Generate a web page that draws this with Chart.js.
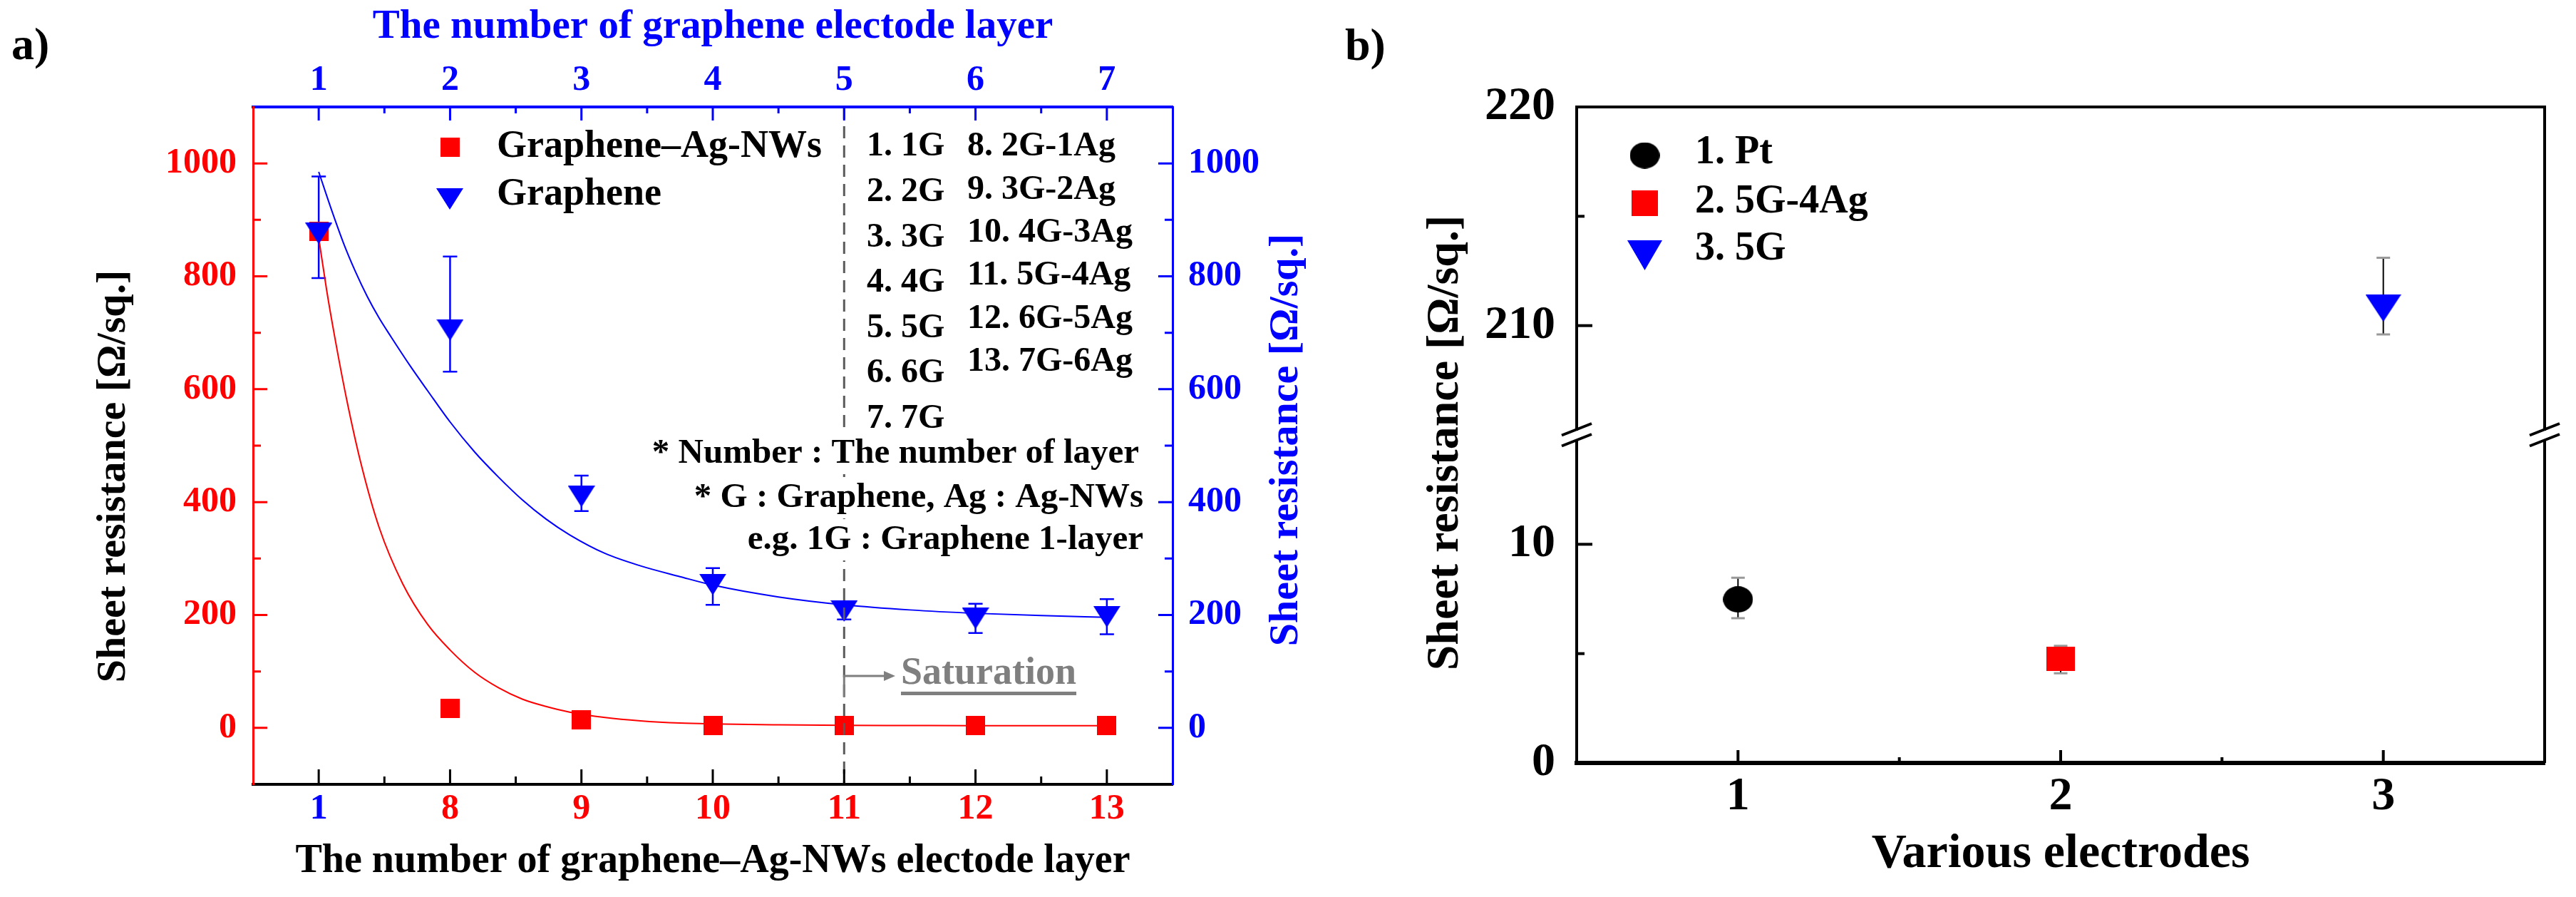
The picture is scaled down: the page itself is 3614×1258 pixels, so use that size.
<!DOCTYPE html>
<html>
<head>
<meta charset="utf-8">
<title>Sheet resistance</title>
<script src="https://cdn.jsdelivr.net/npm/chart.js@4.4.1/dist/chart.umd.min.js"></script>
<style>
  html, body { margin: 0; padding: 0; background: #ffffff; }
  #wrap { position: relative; width: 3614px; height: 1258px; overflow: hidden; background: #fff; }
  canvas { position: absolute; top: 0; }
  #chartA { left: 0; }
  #chartB { left: 1850px; }
</style>
</head>
<body>
<div id="wrap">
  <canvas id="chartA" width="1850" height="1258"></canvas>
  <canvas id="chartB" width="1764" height="1258"></canvas>
</div>
<script>
// ---- panel a: layers ----
const layerPos = [1, 2, 3, 4, 5, 6, 7];
const bottomLabels = ['1', '8', '9', '10', '11', '12', '13'];
const topLabels = ['1', '2', '3', '4', '5', '6', '7'];
const hybridValues = [879, 35, 14.5, 4.4, 4.4, 4.2, 4.2];
const grapheneValues = [876, 705, 410, 254, 207, 194, 197];
const grapheneErrLow = [797, 631, 384, 218, 192, 168, 166];
const grapheneErrHigh = [977, 835, 447, 283, 222, 220, 228];

// fitted curves
const hybridFitX = [1, 1.06, 1.12, 1.21, 1.32, 1.46, 1.64, 1.83, 2.0, 2.19, 2.37, 2.55, 2.73, 2.91, 3.18, 3.45, 3.75, 4, 4.5, 5, 5.5, 6, 6.5, 7];
const hybridFitY = [868, 776, 695, 585, 470, 355, 255, 183, 138, 98, 71, 51, 38, 28, 18.5, 12.5, 8.5, 7, 5.5, 4.6, 4.2, 4, 4, 4];
const grapheneFitX = [1, 1.1, 1.19, 1.28, 1.37, 1.46, 1.55, 1.7, 1.83, 2.0, 2.19, 2.37, 2.55, 2.73, 2.91, 3.18, 3.45, 3.75, 4, 4.5, 5, 5.5, 6, 6.5, 7];
const grapheneFitY = [985, 916, 858, 808, 764, 726, 693, 640, 597, 542, 488, 444, 404, 370, 342, 309, 287, 268, 253, 232, 218, 209, 203, 199, 196];

const resTicks = [0, 200, 400, 600, 800, 1000];
const resMinor = [100, 300, 500, 700, 900];
const layerMinor = [1.5, 2.5, 3.5, 4.5, 5.5, 6.5];
const sampleList1 = ['1. 1G', '2. 2G', '3. 3G', '4. 4G', '5. 5G', '6. 6G', '7. 7G'];
const sampleList2 = ['8. 2G-1Ag', '9. 3G-2Ag', '10. 4G-3Ag', '11. 5G-4Ag', '12. 6G-5Ag', '13. 7G-6Ag'];
const notes = ['* Number : The number of layer', '* G : Graphene, Ag : Ag-NWs', 'e.g. 1G : Graphene 1-layer'];

// ---- panel b: electrodes ----
const electrodeNames = ['1. Pt', '2. 5G-4Ag', '3. 5G'];
const electrodePos = [1, 2, 3];
const electrodeValues = [7.48, 4.76, 210.8];
const electrodeErrLow = [6.62, 4.1, 209.6];
const electrodeErrHigh = [8.47, 5.36, 213.1];
const electrodeAxis = ['yLow', 'yLow', 'yHigh'];
const electrodeTicks = ['1', '2', '3'];
const lowTicks = [0, 10];
const highTicks = [210, 220];

const RED = '#ff0000', BLUE = '#0000ff', GRAY = '#7f7f7f';
const SERIF = '"Liberation Serif", "Times New Roman", serif';
Chart.defaults.font.family = SERIF;

function makeMarker(shape, w, h, color) {
    const c = document.createElement('canvas');
    c.width = w;
    c.height = h;
    const g = c.getContext('2d');
    g.fillStyle = color;
    g.beginPath();
    if (shape === 'square') g.rect(0, 0, w, h);
    else if (shape === 'circle') g.ellipse(w / 2, h / 2, w / 2, h / 2, 0, 0, Math.PI * 2);
    else { g.moveTo(0, 0); g.lineTo(w, 0); g.lineTo(w / 2, h); g.closePath(); }
    g.fill();
    return c;
}

const squareA = makeMarker('square', 27, 27, RED);
const triA = makeMarker('tri', 38, 30, BLUE);
const circleB = makeMarker('circle', 42, 37, '#000');
const squareB = makeMarker('square', 40, 34, RED);
const triB = makeMarker('tri', 50, 38, BLUE);
const legendB = [makeMarker('circle', 42, 37, '#000'), makeMarker('square', 37, 36, RED), makeMarker('tri', 49, 42, BLUE)];

function errorBars(bars) {
    return {
        id: 'errorBars',
        beforeDatasetsDraw(chart) {
            const ctx = chart.ctx;
            bars.forEach(b => {
                const xs = chart.scales.x;
                b.x.forEach((xv, i) => {
                    const ys = chart.scales[b.axis[i]];
                    const px = xs.getPixelForValue(xv);
                    const lo = ys.getPixelForValue(b.low[i]);
                    const hi = ys.getPixelForValue(b.high[i]);
                    ctx.save();
                    ctx.strokeStyle = b.color;
                    ctx.lineWidth = b.width;
                    ctx.beginPath();
                    ctx.moveTo(px, lo);
                    ctx.lineTo(px, hi);
                    ctx.stroke();
                    ctx.strokeStyle = b.capColor;
                    ctx.lineWidth = b.capLine;
                    ctx.beginPath();
                    ctx.moveTo(px - b.cap / 2, lo); ctx.lineTo(px + b.cap / 2, lo);
                    ctx.moveTo(px - b.cap / 2, hi); ctx.lineTo(px + b.cap / 2, hi);
                    ctx.stroke();
                    ctx.restore();
                });
            });
        }
    };
}

// ticks drawn inward from the axis line
function tickMarks(specs) {
    return {
        id: 'tickMarks',
        afterDraw(chart) {
            const ctx = chart.ctx;
            specs.forEach(s => {
                const sc = chart.scales[s.scale];
                ctx.save();
                ctx.strokeStyle = s.color;
                ctx.lineWidth = s.width;
                ctx.beginPath();
                s.values.forEach(v => {
                    const p = sc.getPixelForValue(v);
                    if (sc.position === 'left') { ctx.moveTo(sc.right, p); ctx.lineTo(sc.right + s.len, p); }
                    else if (sc.position === 'right') { ctx.moveTo(sc.left, p); ctx.lineTo(sc.left - s.len, p); }
                    else if (sc.position === 'top') { ctx.moveTo(p, sc.bottom); ctx.lineTo(p, sc.bottom + s.len); }
                    else { ctx.moveTo(p, sc.top); ctx.lineTo(p, sc.top - s.len); }
                });
                ctx.stroke();
                ctx.restore();
            });
        }
    };
}

function vText(ctx, text, x, y, font, color) {
    ctx.save();
    ctx.translate(x, y);
    ctx.rotate(-Math.PI / 2);
    ctx.font = font;
    ctx.fillStyle = color;
    ctx.textAlign = 'center';
    ctx.textBaseline = 'middle';
    ctx.fillText(text, 0, 0);
    ctx.restore();
}

const tickFontA = { size: 50, weight: 'bold' };

// Panel a
const panelAText = {
    id: 'panelAText',
    afterDatasetsDraw(chart) {
        const ctx = chart.ctx;
        const area = chart.chartArea;
        const px = chart.scales.x.getPixelForValue(5);
        ctx.save();
        ctx.strokeStyle = '#5a5a5a';
        ctx.lineWidth = 3;
        ctx.setLineDash([17, 10]);
        ctx.beginPath();
        ctx.moveTo(px, area.top);
        ctx.lineTo(px, area.bottom);
        ctx.stroke();
        ctx.restore();
    },
    afterDraw(chart) {
        const ctx = chart.ctx;
        const px5 = chart.scales.x.getPixelForValue(5);
        ctx.save();
        ctx.textBaseline = 'middle';
        ctx.textAlign = 'left';
        ctx.fillStyle = '#000';
        ctx.font = 'bold 64px ' + SERIF;
        ctx.fillText('a)', 16, 66);

        // legend
        ctx.drawImage(squareA, 631 - 13.5, 206 - 13.5);
        ctx.drawImage(triA, 631 - 19, 279 - 15);
        ctx.font = 'bold 54px ' + SERIF;
        ctx.fillText('Graphene–Ag-NWs', 697, 206);
        ctx.fillText('Graphene', 697, 273);

        // sample list
        ctx.font = 'bold 48px ' + SERIF;
        sampleList1.forEach((t, i) => ctx.fillText(t, 1216, 206 + i * 63.6));
        sampleList2.forEach((t, i) => ctx.fillText(t, 1357, 206 + i * 60.3));

        // notes with white boxes
        const noteY = [636, 698, 757];
        const noteR = [1598, 1604, 1604];
        ctx.font = 'bold 49px ' + SERIF;
        notes.forEach((t, i) => {
            const w = ctx.measureText(t).width;
            ctx.fillStyle = '#fff';
            ctx.fillRect(noteR[i] - w - 8, noteY[i] - 29, w + 12, 58);
            ctx.fillStyle = '#000';
            ctx.textAlign = 'right';
            ctx.fillText(t, noteR[i], noteY[i]);
        });

        // saturation marker
        ctx.strokeStyle = GRAY;
        ctx.fillStyle = GRAY;
        ctx.lineWidth = 3;
        ctx.beginPath();
        ctx.moveTo(px5, 978);
        ctx.lineTo(px5, 948);
        ctx.lineTo(1242, 948);
        ctx.stroke();
        ctx.beginPath();
        ctx.moveTo(1256, 948);
        ctx.lineTo(1240, 941);
        ctx.lineTo(1240, 955);
        ctx.closePath();
        ctx.fill();
        ctx.textAlign = 'left';
        ctx.font = 'bold 54px ' + SERIF;
        const sw = ctx.measureText('Saturation').width;
        ctx.fillText('Saturation', 1264, 945);
        ctx.fillRect(1264, 970, sw, 5);

        // vertical axis titles
        vText(ctx, 'Sheet resistance [Ω/sq.]', 160, 668, 'bold 58px ' + SERIF, '#000');
        vText(ctx, 'Sheet resistance [Ω/sq.]', 1805, 617, 'bold 58px ' + SERIF, BLUE);
        ctx.restore();
    }
};

new Chart(document.getElementById('chartA'), {
    type: 'scatter',
    data: {
        datasets: [
            {
                label: 'Graphene',
                data: layerPos.map((x, i) => ({ x: x, y: grapheneValues[i] })),
                yAxisID: 'y2',
                pointStyle: triA,
                pointRadius: 15,
                order: 0
            },
            {
                label: 'Graphene–Ag-NWs',
                data: layerPos.map((x, i) => ({ x: x, y: hybridValues[i] })),
                yAxisID: 'y',
                pointStyle: squareA,
                pointRadius: 14,
                order: 1
            },
            {
                label: 'Graphene fit',
                data: grapheneFitX.map((x, i) => ({ x: x, y: grapheneFitY[i] })),
                yAxisID: 'y2',
                showLine: true,
                pointRadius: 0,
                borderColor: BLUE,
                borderWidth: 2,
                cubicInterpolationMode: 'monotone',
                order: 2
            },
            {
                label: 'Graphene–Ag-NWs fit',
                data: hybridFitX.map((x, i) => ({ x: x, y: hybridFitY[i] })),
                yAxisID: 'y',
                showLine: true,
                pointRadius: 0,
                borderColor: RED,
                borderWidth: 2,
                cubicInterpolationMode: 'monotone',
                order: 3
            }
        ]
    },
    options: {
        responsive: false,
        animation: false,
        layout: { padding: 0 },
        plugins: { legend: { display: false }, tooltip: { enabled: false } },
        scales: {
            x: {
                type: 'linear', position: 'bottom', min: 0.5, max: 7.5,
                afterBuildTicks: s => { s.ticks = layerPos.map(v => ({ value: v })); },
                afterFit: s => { s.height = 158; },
                grid: { display: false, drawTicks: false },
                border: { display: true, color: '#000', width: 4 },
                ticks: {
                    padding: 5, autoSkip: false, maxRotation: 0, font: tickFontA,
                    color: c => (c.index === 0 ? BLUE : RED),
                    callback: (v, i) => bottomLabels[i]
                },
                title: {
                    display: true, text: 'The number of graphene–Ag-NWs electode layer', color: '#000',
                    font: { size: 56, weight: 'bold' }, padding: { top: 0, bottom: 16 }
                }
            },
            x2: {
                type: 'linear', position: 'top', min: 0.5, max: 7.5,
                afterBuildTicks: s => { s.ticks = layerPos.map(v => ({ value: v })); },
                afterFit: s => { s.height = 150; },
                grid: { display: false, drawTicks: false },
                border: { display: true, color: BLUE, width: 4 },
                ticks: {
                    padding: 7, autoSkip: false, maxRotation: 0, font: tickFontA, color: BLUE,
                    callback: (v, i) => topLabels[i]
                },
                title: {
                    display: true, text: 'The number of graphene electode layer', color: BLUE,
                    font: { size: 57, weight: 'bold' }, padding: { top: 4, bottom: 0 }
                }
            },
            y: {
                type: 'linear', position: 'left', min: -100, max: 1100,
                afterBuildTicks: s => { s.ticks = resTicks.map(v => ({ value: v })); },
                afterFit: s => { s.width = 355; },
                grid: { display: false, drawTicks: false },
                border: { display: true, color: RED, width: 3 },
                ticks: { padding: 23, font: tickFontA, color: RED, callback: v => String(v) }
            },
            y2: {
                type: 'linear', position: 'right', min: -100, max: 1100,
                afterBuildTicks: s => { s.ticks = resTicks.map(v => ({ value: v })); },
                afterFit: s => { s.width = 205; },
                grid: { display: false, drawTicks: false },
                border: { display: true, color: BLUE, width: 3 },
                ticks: { padding: 22, font: tickFontA, color: BLUE, callback: v => String(v) }
            }
        }
    },
    plugins: [
        errorBars([{
            x: layerPos, low: grapheneErrLow, high: grapheneErrHigh,
            axis: layerPos.map(() => 'y2'),
            color: BLUE, width: 2.5, capColor: BLUE, capLine: 2.5, cap: 20
        }]),
        tickMarks([
            { scale: 'y', values: resTicks, len: 20, color: RED, width: 3 },
            { scale: 'y', values: resMinor, len: 11, color: RED, width: 3 },
            { scale: 'y2', values: resTicks, len: 20, color: BLUE, width: 3 },
            { scale: 'y2', values: resMinor, len: 11, color: BLUE, width: 3 },
            { scale: 'x', values: layerPos, len: 21, color: '#000', width: 3 },
            { scale: 'x', values: layerMinor, len: 11, color: '#000', width: 3 },
            { scale: 'x2', values: layerPos, len: 19, color: BLUE, width: 3 },
            { scale: 'x2', values: layerMinor, len: 9, color: BLUE, width: 3 }
        ]),
        panelAText
    ]
});

// Panel b
function breakMark(ctx, x, y) {
    ctx.save();
    ctx.fillStyle = '#fff';
    ctx.fillRect(x - 4, y - 6, 8, 12);
    ctx.strokeStyle = '#000';
    ctx.lineWidth = 4;
    ctx.beginPath();
    ctx.moveTo(x - 21, y + 0.5); ctx.lineTo(x + 21, y - 16);
    ctx.moveTo(x - 21, y + 15.5); ctx.lineTo(x + 21, y - 1);
    ctx.stroke();
    ctx.restore();
}

const panelBText = {
    id: 'panelBText',
    afterDraw(chart) {
        const ctx = chart.ctx;
        const area = chart.chartArea;
        ctx.save();
        ctx.strokeStyle = '#000';
        ctx.lineWidth = 4;
        ctx.beginPath();
        ctx.moveTo(area.left - 2, area.top);
        ctx.lineTo(area.right, area.top);
        ctx.lineTo(area.right, area.bottom);
        ctx.stroke();
        const yb = chart.scales.yLow.top;
        breakMark(ctx, area.left, yb);
        breakMark(ctx, area.right, yb);

        ctx.fillStyle = '#000';
        ctx.textBaseline = 'middle';
        ctx.textAlign = 'left';
        ctx.font = 'bold 64px ' + SERIF;
        ctx.fillText('b)', 37, 67);

        const legY = [218, 285, 358];
        const txtY = [215, 284, 350];
        ctx.font = 'bold 56px ' + SERIF;
        electrodeNames.forEach((n, i) => {
            const m = legendB[i];
            ctx.drawImage(m, 457.5 - m.width / 2, legY[i] - m.height / 2);
            ctx.fillText(n, 528, txtY[i]);
        });

        vText(ctx, 'Sheet resistance [Ω/sq.]', 178, 621, 'bold 64px ' + SERIF, '#000');
        ctx.restore();
    }
};

const markersB = [circleB, squareB, triB];
const tickFontB = { size: 66, weight: 'bold' };

new Chart(document.getElementById('chartB'), {
    type: 'scatter',
    data: {
        datasets: electrodeNames.map((n, i) => ({
            label: n,
            data: [{ x: electrodePos[i], y: electrodeValues[i] }],
            yAxisID: electrodeAxis[i],
            pointStyle: markersB[i],
            pointRadius: 20
        }))
    },
    options: {
        responsive: false,
        animation: false,
        layout: { padding: { top: 150, right: 44, left: 0, bottom: 0 } },
        plugins: { legend: { display: false }, tooltip: { enabled: false } },
        scales: {
            x: {
                type: 'linear', position: 'bottom', min: 0.5, max: 3.5,
                afterBuildTicks: s => { s.ticks = electrodePos.map(v => ({ value: v })); },
                afterFit: s => { s.height = 188; },
                grid: { display: false, drawTicks: false },
                border: { display: true, color: '#000', width: 6 },
                ticks: {
                    padding: 8, autoSkip: false, maxRotation: 0, font: tickFontB, color: '#000',
                    callback: (v, i) => electrodeTicks[i]
                },
                title: {
                    display: true, text: 'Various electrodes', color: '#000',
                    font: { size: 68, weight: 'bold' }, padding: { top: 0, bottom: 19 }
                }
            },
            yHigh: {
                type: 'linear', position: 'left', stack: 'res', stackWeight: 1, weight: 2,
                min: 205, max: 220,
                afterBuildTicks: s => { s.ticks = highTicks.map(v => ({ value: v })); },
                afterFit: s => { s.width = 362; },
                grid: { display: false, drawTicks: false },
                border: { display: true, color: '#000', width: 4 },
                ticks: { padding: 30, font: tickFontB, color: '#000', callback: v => String(v) }
            },
            yLow: {
                type: 'linear', position: 'left', stack: 'res', stackWeight: 1, weight: 1,
                min: 0, max: 15,
                afterBuildTicks: s => { s.ticks = lowTicks.map(v => ({ value: v })); },
                afterFit: s => { s.width = 362; },
                grid: { display: false, drawTicks: false },
                border: { display: true, color: '#000', width: 4 },
                ticks: { padding: 30, font: tickFontB, color: '#000', callback: v => String(v) }
            }
        }
    },
    plugins: [
        errorBars([{
            x: electrodePos, low: electrodeErrLow, high: electrodeErrHigh, axis: electrodeAxis,
            color: '#000', width: 2, capColor: '#999', capLine: 3, cap: 19
        }]),
        tickMarks([
            { scale: 'yHigh', values: [210], len: 22, color: '#000', width: 4 },
            { scale: 'yHigh', values: [215], len: 11, color: '#000', width: 4 },
            { scale: 'yLow', values: [10], len: 22, color: '#000', width: 4 },
            { scale: 'yLow', values: [5], len: 11, color: '#000', width: 4 },
            { scale: 'x', values: electrodePos, len: 18, color: '#000', width: 4 },
            { scale: 'x', values: [1.5, 2.5], len: 8, color: '#000', width: 4 }
        ]),
        panelBText
    ]
});
</script>
</body>
</html>
